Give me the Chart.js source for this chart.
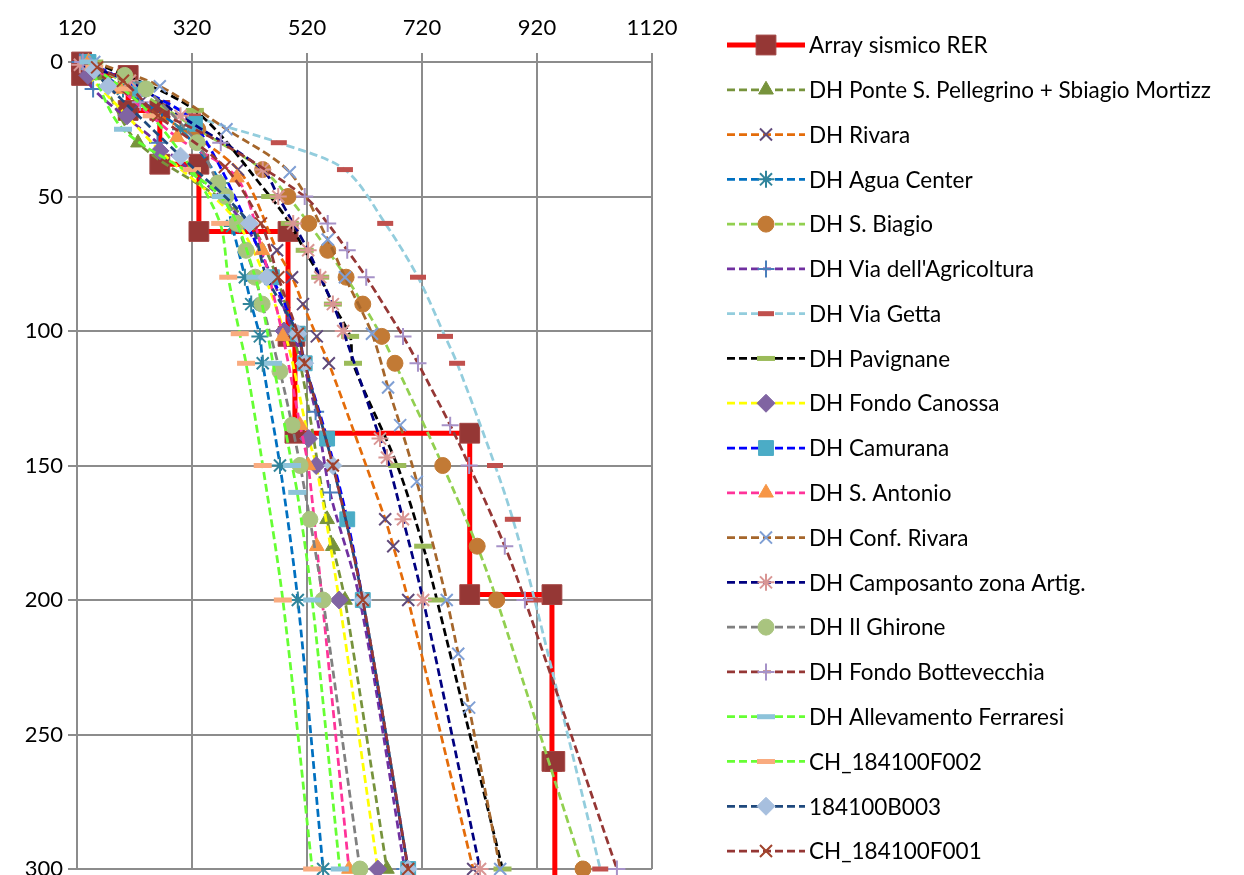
<!DOCTYPE html>
<html>
<head>
<meta charset="utf-8">
<script src="https://cdn.jsdelivr.net/npm/chart.js@4.4.1/dist/chart.umd.min.js"></script>
<style>
  html, body { margin: 0; padding: 0; background: #ffffff; }
  #wrap { width: 1244px; height: 875px; position: relative; }
</style>
</head>
<body>
<div id="wrap"><canvas id="c" width="1244" height="875"></canvas></div>
<script>
// Axis ticks
const vsTicks = [120, 320, 520, 720, 920, 1120];
const depthTicks = [0, 50, 100, 150, 200, 250, 300];

// Series names (legend order)
const seriesNames = [
  "Array sismico RER",
  "DH Ponte S. Pellegrino + Sbiagio Mortizz",
  "DH Rivara",
  "DH Agua Center",
  "DH S. Biagio",
  "DH Via dell'Agricoltura",
  "DH Via Getta",
  "DH Pavignane",
  "DH Fondo Canossa",
  "DH Camurana",
  "DH S. Antonio",
  "DH Conf. Rivara",
  "DH Camposanto zona Artig.",
  "DH Il Ghirone",
  "DH Fondo Bottevecchia",
  "DH Allevamento Ferraresi",
  "CH_184100F002",
  "184100B003",
  "CH_184100F001"
];

// Vs (m/s) and depth (m) of each profile
const vsRER          = [128, 128, 209, 209, 264, 264, 332, 332, 487, 487, 499, 499, 803, 803, 946, 946, 951, 951];
const depthRER       = [0, 5, 5, 18, 18, 38, 38, 63, 63, 102, 102, 138, 138, 198, 198, 260, 260, 320];

const vsPonte        = [160, 226, 420, 495, 555, 565, 586, 659];
const depthPonte     = [5, 30, 60, 100, 170, 180, 200, 300];

const vsRivara       = [151, 230, 400, 468, 494, 513, 537, 558, 656, 670, 696, 809];
const depthRivara    = [2, 15, 40, 70, 80, 90, 102, 112, 170, 180, 200, 300];

const vsAgua         = [140, 200, 300, 370, 390, 412, 423, 438, 443, 473, 504, 548];
const depthAgua      = [0, 10, 25, 45, 61, 80, 90, 102, 112, 150, 200, 300];

const vsBiagio       = [140, 220, 330, 443, 487, 523, 556, 588, 617, 650, 673, 756, 816, 850, 1000];
const depthBiagio    = [0, 10, 25, 40, 50, 60, 70, 80, 90, 102, 112, 150, 180, 200, 300];

const vsAgricoltura    = [125, 148, 260, 410, 495, 535, 560, 612, 690];
const depthAgricoltura = [0, 10, 30, 60, 100, 130, 160, 200, 300];

const vsGetta        = [140, 230, 322, 471, 586, 656, 713, 760, 781, 847, 878, 916, 1030];
const depthGetta     = [0, 10, 20, 30, 40, 60, 80, 102, 112, 150, 170, 200, 300];

const vsPavignane    = [150, 325, 456, 490, 516, 543, 565, 595, 600, 677, 722, 746, 860];
const depthPavignane = [0, 18, 50, 60, 70, 80, 90, 102, 112, 150, 180, 200, 300];

const vsCanossa      = [139, 207, 264, 400, 480, 523, 536, 576, 643];
const depthCanossa   = [5, 20, 33, 60, 100, 140, 150, 200, 300];

const vsCamurana     = [140, 230, 325, 459, 504, 516, 555, 590, 617, 696];
const depthCamurana  = [0, 10, 23, 80, 101, 112, 140, 170, 200, 300];

const vsAntonio      = [140, 195, 294, 398, 442, 478, 508, 522, 537, 593];
const depthAntonio   = [0, 10, 28, 43, 70, 102, 135, 150, 180, 300];

const vsConfRivara    = [150, 264, 380, 490, 556, 586, 633, 661, 682, 711, 763, 783, 802, 856];
const depthConfRivara = [0, 9, 25, 41, 66, 80, 101, 121, 135, 156, 200, 220, 240, 300];

const vsCamposanto    = [125, 212, 300, 443, 470, 496, 522, 543, 565, 583, 647, 659, 687, 722, 821];
const depthCamposanto = [1, 7, 20, 40, 50, 60, 70, 80, 90, 100, 140, 147, 170, 200, 300];

const vsGhirone      = [203, 240, 329, 365, 379, 398, 414, 430, 442, 473, 494, 508, 525, 548, 612];
const depthGhirone   = [5, 10, 30, 45, 50, 60, 70, 80, 90, 115, 135, 150, 170, 200, 300];

const vsBottevecchia    = [130, 230, 370, 516, 556, 590, 623, 687, 713, 769, 802, 864, 899, 1059];
const depthBottevecchia = [0, 15, 30, 50, 60, 70, 80, 102, 112, 135, 150, 180, 200, 300];

const vsFerraresi    = [140, 200, 370, 430, 461, 494, 503, 529, 577];
const depthFerraresi = [0, 25, 50, 80, 112, 150, 160, 200, 300];

const vsF002         = [150, 200, 250, 320, 369, 383, 403, 414, 443, 478, 529];
const depthF002      = [2, 10, 20, 40, 60, 80, 101, 112, 150, 200, 300];

const vsB003         = [150, 174, 300, 420, 450, 504, 516, 565, 617, 696];
const depthB003      = [3, 9, 35, 60, 80, 101, 112, 150, 200, 300];

const vsF001         = [155, 200, 261, 377, 440, 470, 504, 516, 565, 617, 696];
const depthF001      = [2, 7, 20, 39, 60, 80, 101, 112, 150, 200, 300];

const seriesValues = [
  [vsRER, depthRER], [vsPonte, depthPonte], [vsRivara, depthRivara], [vsAgua, depthAgua],
  [vsBiagio, depthBiagio], [vsAgricoltura, depthAgricoltura], [vsGetta, depthGetta],
  [vsPavignane, depthPavignane], [vsCanossa, depthCanossa], [vsCamurana, depthCamurana],
  [vsAntonio, depthAntonio], [vsConfRivara, depthConfRivara], [vsCamposanto, depthCamposanto],
  [vsGhirone, depthGhirone], [vsBottevecchia, depthBottevecchia], [vsFerraresi, depthFerraresi],
  [vsF002, depthF002], [vsB003, depthB003], [vsF001, depthF001]
];

// Line and marker styles
const DASH = [8, 4];
const LW = 2.75;
const styles = [
  { line: '#FF0000', width: 5,  dash: [],   marker: 'rect',     mColor: '#953735', mBorder: '#A24442', r: 14,  bw: 1 },
  { line: '#77933C', width: LW, dash: DASH, marker: 'triangle', mColor: '#77933C', mBorder: '#77933C', r: 8.5, bw: 1 },
  { line: '#E46C0A', width: LW, dash: DASH, marker: 'crossRot', mColor: '#604A7B', mBorder: '#604A7B', r: 8.5, bw: 2 },
  { line: '#0070C0', width: LW, dash: DASH, marker: 'star',     mColor: '#31859C', mBorder: '#31859C', r: 8.5, bw: 2 },
  { line: '#92D050', width: LW, dash: DASH, marker: 'circle',   mColor: '#C27A35', mBorder: '#C27A35', r: 8,   bw: 1 },
  { line: '#7030A0', width: LW, dash: DASH, marker: 'cross',    mColor: '#4A7EBB', mBorder: '#4A7EBB', r: 8.5, bw: 2 },
  { line: '#93CDDD', width: LW, dash: DASH, marker: 'line',     mColor: '#C0504D', mBorder: '#C0504D', r: 8,   bw: 5 },
  { line: '#000000', width: LW, dash: DASH, marker: 'line',     mColor: '#9BBB59', mBorder: '#9BBB59', r: 9,   bw: 5 },
  { line: '#FFFF00', width: LW, dash: DASH, marker: 'rectRot',  mColor: '#8064A2', mBorder: '#8064A2', r: 9,   bw: 1 },
  { line: '#0000FF', width: LW, dash: DASH, marker: 'rect',     mColor: '#4BACC6', mBorder: '#4BACC6', r: 10.5,bw: 1 },
  { line: '#FF3399', width: LW, dash: DASH, marker: 'triangle', mColor: '#F79646', mBorder: '#F79646', r: 8.5, bw: 1 },
  { line: '#A5662B', width: LW, dash: DASH, marker: 'crossRot', mColor: '#7F9FD4', mBorder: '#7F9FD4', r: 8.5, bw: 2 },
  { line: '#000080', width: LW, dash: DASH, marker: 'star',     mColor: '#D99694', mBorder: '#D99694', r: 8.5, bw: 2 },
  { line: '#808080', width: LW, dash: DASH, marker: 'circle',   mColor: '#A9C47F', mBorder: '#A9C47F', r: 8,   bw: 1 },
  { line: '#953735', width: LW, dash: DASH, marker: 'cross',    mColor: '#A692C8', mBorder: '#A692C8', r: 8.5, bw: 2 },
  { line: '#66FF33', width: LW, dash: DASH, marker: 'line',     mColor: '#8DC3DA', mBorder: '#8DC3DA', r: 9,   bw: 5 },
  { line: '#66FF33', width: LW, dash: DASH, marker: 'line',     mColor: '#F9AB7F', mBorder: '#F9AB7F', r: 9,   bw: 5 },
  { line: '#1F497D', width: LW, dash: DASH, marker: 'rectRot',  mColor: '#A7BFDE', mBorder: '#A7BFDE', r: 9,   bw: 1 },
  { line: '#953735', width: LW, dash: DASH, marker: 'crossRot', mColor: '#A0432C', mBorder: '#A0432C', r: 8.5, bw: 2 }
];

const FONT = 'Lato, "Open Sans", "DejaVu Sans", sans-serif';
const GRID = '#8C8C8C';

const datasets = seriesNames.map((name, i) => {
  const [vs, depth] = seriesValues[i];
  const s = styles[i];
  return {
    label: name,
    data: vs.map((v, k) => ({ x: v, y: depth[k] })),
    showLine: true,
    borderColor: s.line,
    borderWidth: s.width,
    borderDash: s.dash,
    tension: i === 0 ? 0 : 0.3,
    pointStyle: s.marker,
    pointRadius: s.r,
    pointBorderWidth: s.bw,
    pointBackgroundColor: s.mColor,
    pointBorderColor: s.mBorder,
    order: 100 - i,
    clip: 14
  };
});

// Legend drawn at the right: dashed line sample, marker and label
const sideLegend = {
  id: 'sideLegend',
  afterDraw(chart) {
    const ctx = chart.ctx;
    const x0 = 727, x1 = 805, xm = 766, tx = 809;
    const top = 45, step = 44.78;
    ctx.save();
    seriesNames.forEach((name, i) => {
      const s = styles[i];
      const y = top + i * step;
      ctx.beginPath();
      ctx.setLineDash(s.dash);
      ctx.lineWidth = s.width;
      ctx.strokeStyle = s.line;
      ctx.moveTo(x0, y);
      ctx.lineTo(x1, y);
      ctx.stroke();
      ctx.setLineDash([]);
      ctx.fillStyle = s.mColor;
      ctx.strokeStyle = s.mBorder;
      ctx.lineWidth = s.bw;
      Chart.helpers.drawPoint(ctx, { pointStyle: s.marker, radius: s.r, rotation: 0, borderWidth: s.bw }, xm, y);
      ctx.fillStyle = '#000000';
      ctx.font = '22.5px ' + FONT;
      ctx.textAlign = 'left';
      ctx.textBaseline = 'middle';
      ctx.fillText(name, tx, y + 1);
    });
    ctx.restore();
  }
};

new Chart(document.getElementById('c'), {
  type: 'scatter',
  data: { datasets },
  options: {
    responsive: false,
    animation: false,
    events: [],
    layout: { autoPadding: false, padding: { left: 0, top: 0, right: 1244 - 652, bottom: 875 - 869 } },
    plugins: { legend: { display: false }, tooltip: { enabled: false } },
    scales: {
      x: {
        type: 'linear',
        position: 'top',
        min: 120,
        max: 1120,
        afterBuildTicks: (scale) => { scale.ticks = vsTicks.map(v => ({ value: v })); },
        afterFit: (scale) => { scale.height = 62; scale.paddingLeft = 0; scale.paddingRight = 0; },
        grid: { color: GRID, lineWidth: 2, tickLength: 9 },
        border: { color: GRID, width: 2 },
        ticks: { color: '#000', font: { family: FONT, size: 22 }, padding: 12, maxRotation: 0, callback: (v) => String(v) }
      },
      y: {
        type: 'linear',
        reverse: true,
        min: 0,
        max: 300,
        afterBuildTicks: (scale) => { scale.ticks = depthTicks.map(v => ({ value: v })); },
        afterFit: (scale) => { scale.width = 77; scale.paddingTop = 0; scale.paddingBottom = 0; },
        grid: { color: GRID, lineWidth: 2, tickLength: 9 },
        border: { color: GRID, width: 2 },
        ticks: { color: '#000', font: { family: FONT, size: 22 }, padding: 5, callback: (v) => String(v) }
      }
    }
  },
  plugins: [sideLegend]
});
</script>
</body>
</html>
